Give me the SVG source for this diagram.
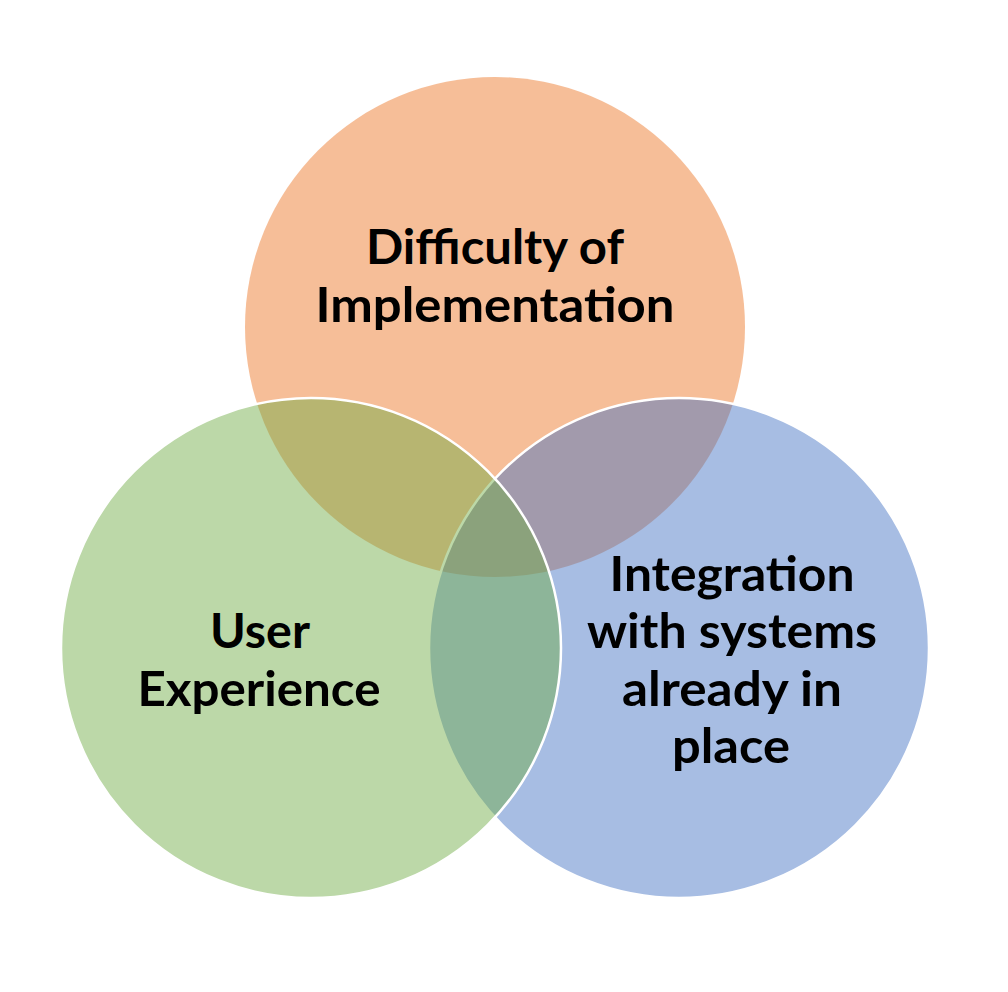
<svg xmlns="http://www.w3.org/2000/svg" width="1008" height="992" viewBox="0 0 1008 992">
  <style>
    .lbl { font-family: Lato, "Liberation Sans", sans-serif; font-weight: bold; font-size: 47px; fill: #000; text-anchor: middle; }
    .circ { stroke: #fff; stroke-width: 2.5; }
  </style>
  <rect x="0" y="0" width="1008" height="992" fill="#fff"/>
  <g id="node-difficulty">
    <circle cx="495" cy="327" r="250" fill="#ED7D31" fill-opacity="0.5"/>
  </g>
  <g id="node-integration">
    <circle class="circ" cx="679" cy="648" r="250" fill="#4472C4" fill-opacity="0.47"/>
  </g>
  <g id="node-user">
    <circle class="circ" cx="311" cy="648" r="250" fill="#70AD47" fill-opacity="0.47"/>
  </g>
  <g id="connectors"></g>
  <g id="labels">
    <text class="lbl" x="495" y="264" textLength="258" lengthAdjust="spacingAndGlyphs">Difficulty of</text>
    <text class="lbl" x="495" y="322" textLength="359" lengthAdjust="spacingAndGlyphs">Implementation</text>
    <text class="lbl" x="260" y="648" textLength="100" lengthAdjust="spacingAndGlyphs">User</text>
    <text class="lbl" x="259" y="706" textLength="243" lengthAdjust="spacingAndGlyphs">Experience</text>
    <text class="lbl" x="732" y="591" textLength="245" lengthAdjust="spacingAndGlyphs">Integration</text>
    <text class="lbl" x="732" y="648" textLength="290" lengthAdjust="spacingAndGlyphs">with systems</text>
    <text class="lbl" x="732" y="706" textLength="220" lengthAdjust="spacingAndGlyphs">already in</text>
    <text class="lbl" x="731" y="763" textLength="118" lengthAdjust="spacingAndGlyphs">place</text>
  </g>
</svg>
